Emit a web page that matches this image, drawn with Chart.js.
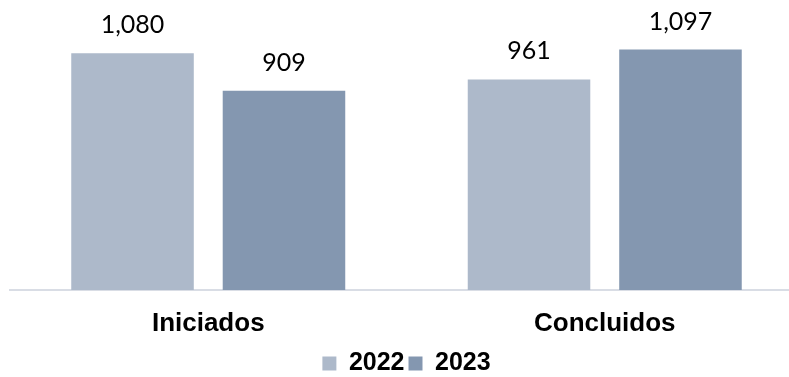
<!DOCTYPE html>
<html>
<head>
<meta charset="utf-8">
<script src="https://cdn.jsdelivr.net/npm/chart.js@4"></script>
<style>
  html, body { margin: 0; padding: 0; background: #fff; overflow: hidden; }
  #wrap { width: 789px; height: 377px; overflow: hidden; }
</style>
</head>
<body>
<div id="wrap"><canvas id="chart" width="803" height="377"></canvas></div>
<script>
let categories = ['Iniciados', 'Concluidos'];
let years = ['2022', '2023'];
let values2022 = [1080, 961];
let values2023 = [909, 1097];
let yearColors = ['#adb9ca', '#8497b0'];

// numbers above each bar
const valueLabels = {
    id: 'valueLabels',
    afterDatasetsDraw(chart) {
        let ctx = chart.ctx;
        ctx.save();
        ctx.font = '25px Lato';
        ctx.fillStyle = '#000';
        ctx.textAlign = 'center';
        ctx.textBaseline = 'alphabetic';
        chart.data.datasets.forEach((ds, i) => {
            chart.getDatasetMeta(i).data.forEach((bar, j) => {
                ctx.fillText(ds.data[j].toLocaleString('en-US'), bar.x, bar.y - 20);
            });
        });
        ctx.restore();
    }
};

let ctx = document.getElementById('chart').getContext('2d');
new Chart(ctx, {
    type: 'bar',
    data: {
        labels: categories,
        datasets: [
            { label: years[0], data: values2022, backgroundColor: yearColors[0] },
            { label: years[1], data: values2023, backgroundColor: yearColors[1] }
        ]
    },
    options: {
        responsive: false,
        animation: false,
        categoryPercentage: 0.764,
        barPercentage: 0.809,
        layout: { padding: { top: 27, left: 10, right: 0, bottom: -9 } },
        plugins: {
            tooltip: { enabled: false },
            legend: {
                position: 'bottom',
                labels: {
                    boxWidth: 14,
                    boxHeight: 14,
                    padding: 4,
                    color: '#000',
                    font: { family: 'Liberation Sans', size: 25, weight: 'bold' }
                }
            }
        },
        scales: {
            x: {
                grid: { display: false, drawTicks: false },
                border: { display: true, color: '#d9dde5', width: 2 },
                ticks: {
                    padding: 18,
                    color: '#000',
                    font: { family: 'Liberation Sans', size: 26, weight: 'bold' }
                },
                afterFit(scale) { scale.height = 57; }
            },
            y: {
                display: false,
                min: 0,
                max: 1200
            }
        }
    },
    plugins: [valueLabels]
});
</script>
</body>
</html>
